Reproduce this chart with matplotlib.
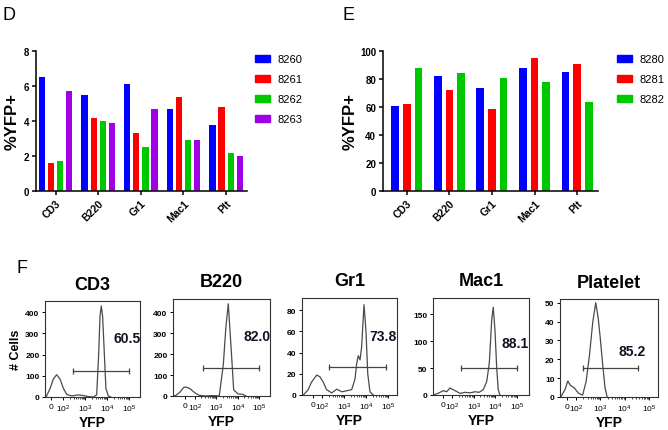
import numpy as np
import matplotlib.pyplot as plt
from matplotlib.patches import Patch

plt.rcParams['font.family'] = ['Liberation Sans', 'DejaVu Sans']

W, H = 668, 431

# ---- panel D / E data ----
cells = ['CD3', 'B220', 'Gr1', 'Mac1', 'Plt']

mice_d = ['8260', '8261', '8262', '8263']
yfp_8260 = [6.5, 5.5, 6.1, 4.7, 3.8]
yfp_8261 = [1.6, 4.2, 3.3, 5.4, 4.8]
yfp_8262 = [1.7, 4.0, 2.5, 2.9, 2.2]
yfp_8263 = [5.7, 3.9, 4.7, 2.9, 2.0]

mice_e = ['8280', '8281', '8282']
yfp_8280 = [60.5, 82.0, 73.8, 88.1, 85.2]
yfp_8281 = [62.4, 72.1, 58.8, 95.2, 91.0]
yfp_8282 = [87.6, 84.5, 80.5, 78.1, 63.3]

# ---- panel F data (x in log10 units of YFP, y = # cells) ----
hist_titles = ['CD3', 'B220', 'Gr1', 'Mac1', 'Platelet']
gated_pct = ['60.5', '82.0', '73.8', '88.1', '85.2']

cd3_x = [1.23, 1.41, 1.56, 1.71, 1.86, 2.02, 2.17, 2.4, 2.7, 2.92, 3.15, 3.38, 3.53, 3.62, 3.68, 3.74, 3.8, 3.88, 3.95, 4.06, 4.17]
cd3_y = [0, 40, 85, 105, 85, 40, 12, 5, 10, 7, 2, 0, 10, 200, 380, 430, 380, 200, 40, 5, 0]

b220_x = [0.99, 1.1, 1.3, 1.47, 1.58, 1.77, 2.0, 2.2, 2.5, 2.8, 3.13, 3.32, 3.44, 3.55, 3.7, 3.8, 4.0, 4.22, 4.37]
b220_y = [0, 2, 18, 40, 43, 35, 15, 3, 0, 2, 0, 150, 330, 440, 200, 30, 10, 8, 0]

gr1_x = [1.15, 1.37, 1.52, 1.76, 1.91, 2.06, 2.21, 2.44, 2.67, 2.9, 3.12, 3.35, 3.5, 3.58, 3.65, 3.73, 3.8, 3.91, 4.0, 4.08, 4.18, 4.33]
gr1_y = [0, 5, 12, 18.8, 17, 12, 5, 2, 5.5, 3, 4, 5, 15, 30, 37, 33, 45, 85, 60, 20, 3, 0]

mac1_x = [1.12, 1.35, 1.59, 1.75, 1.9, 2.14, 2.37, 2.6, 2.83, 3.06, 3.25, 3.44, 3.6, 3.72, 3.83, 3.9, 3.98, 4.06, 4.13, 4.21]
mac1_y = [0, 3, 8, 6, 13, 8, 3, 5, 4, 6, 5, 10, 25, 60, 140, 163, 120, 50, 10, 0]

plt_x = [1.37, 1.55, 1.66, 1.78, 1.92, 2.1, 2.27, 2.41, 2.55, 2.69, 2.81, 2.91, 2.99, 3.09, 3.19, 3.28]
plt_y = [0, 4, 8.5, 6, 5, 2, 1, 8, 22, 40, 50, 42, 32, 18, 5, 0]

hist_x = [cd3_x, b220_x, gr1_x, mac1_x, plt_x]
hist_y = [cd3_y, b220_y, gr1_y, mac1_y, plt_y]
hist_xlim = [(1.18, 5.5), (0.98, 5.49), (1.09, 5.41), (1.12, 5.55), (1.34, 5.37)]
hist_zero = [1.44, 1.53, 1.59, 1.58, 1.63]
hist_ymax = [453, 463, 91.3, 180, 52]
hist_yticks = [[0, 100, 200, 300, 400], [0, 100, 200, 300, 400], [0, 20, 40, 60, 80],
               [0, 50, 100, 150], [0, 10, 20, 30, 40, 50]]
gate_x = [(2.44, 5.0), (2.36, 4.99), (2.33, 4.91), (2.4, 4.98), (2.27, 4.56)]
gate_y = [124, 133, 26, 50, 15.4]
label_pos = [(4.93, 280), (4.87, 287), (4.79, 55.8), (4.93, 96), (4.29, 24.6)]

# ---- layout (pixels) ----
fig = plt.figure(figsize=(W / 100, H / 100), dpi=100)


def px_axes(l, t, r, b):
    return fig.add_axes([l / W, 1 - b / H, (r - l) / W, (b - t) / H])


colors = ['#0000ff', '#ff0000', '#00c800', '#a000e6']


def bar_panel(ax, series, names, pitch, width, xlim, ylim, yticks, ylab_x, leg_xy):
    n = len(series)
    x = np.arange(len(cells))
    for i, vals in enumerate(series):
        ax.bar(x + (i - (n - 1) / 2) * pitch, vals, width, color=colors[i], label=names[i])
    ax.set_xlim(*xlim)
    ax.set_ylim(*ylim)
    ax.set_yticks(yticks)
    ax.set_xticks(x)
    ax.set_xticklabels(cells, rotation=45, ha='right', rotation_mode='anchor',
                       fontsize=7.5, fontweight='bold')
    for lab in ax.get_yticklabels():
        lab.set_fontsize(7)
        lab.set_fontweight('bold')
    for s in ['top', 'right']:
        ax.spines[s].set_visible(False)
    for s in ['left', 'bottom']:
        ax.spines[s].set_linewidth(1.1)
    ax.tick_params(width=1.1, length=3, pad=2)
    ax.set_ylabel('%YFP+', fontsize=12, fontweight='bold')
    ax.yaxis.set_label_coords(ylab_x, 0.5)
    handles = [Patch(color=colors[i]) for i in range(n)]
    fig.legend(handles, names, loc='upper left', bbox_to_anchor=(leg_xy[0] / W, 1 - leg_xy[1] / H),
               frameon=False, fontsize=8, handlelength=1.35, handleheight=0.6,
               handletextpad=0.7, labelspacing=0.9, borderpad=0, borderaxespad=0)


ax_d = px_axes(36, 52, 247, 192)
bar_panel(ax_d, [yfp_8260, yfp_8261, yfp_8262, yfp_8263], mice_d, 0.214, 0.148,
          (-0.46, 4.49), (0, 8), [0, 2, 4, 6, 8], -0.076, (255, 55))

ax_e = px_axes(383, 52, 598, 192)
bar_panel(ax_e, [yfp_8280, yfp_8281, yfp_8282], mice_e, 0.274, 0.18,
          (-0.56, 4.49), (0, 100), [0, 20, 40, 60, 80, 100], -0.116, (617, 55))

fig.text(3 / W, 1 - 7 / H, 'D', fontsize=13, va='top', ha='left')
fig.text(342 / W, 1 - 7 / H, 'E', fontsize=13, va='top', ha='left')
fig.text(16 / W, 1 - 260 / H, 'F', fontsize=13, va='top', ha='left')

hist_boxes = [(45, 302, 140, 398), (173, 300, 270, 397), (302, 299, 397, 396),
              (433, 299, 529, 396), (560, 300, 658, 398)]

minor = [d + np.log10(k) for d in (2, 3, 4) for k in range(2, 10)]

for i, box in enumerate(hist_boxes):
    ax = px_axes(*box)
    ax.plot(hist_x[i], hist_y[i], color='#4a4a4a', lw=0.9)
    ax.plot(gate_x[i], [gate_y[i], gate_y[i]], color='#444444', lw=0.9,
            marker='|', markersize=4, markeredgewidth=0.9)
    ax.text(label_pos[i][0], label_pos[i][1], gated_pct[i], fontsize=10,
            fontweight='bold', ha='center', va='center', color='#111122')
    ax.set_xlim(*hist_xlim[i])
    ax.set_ylim(0, hist_ymax[i])
    ax.set_yticks(hist_yticks[i])
    ax.set_xticks([hist_zero[i], 2, 3, 4, 5])
    ax.set_xticklabels(['0', r'$\mathregular{10^2}$', r'$\mathregular{10^3}$',
                        r'$\mathregular{10^4}$', r'$\mathregular{10^5}$'], fontsize=6)
    ax.set_xticks([m for m in minor if m < hist_xlim[i][1]], minor=True)
    for lab in ax.get_yticklabels():
        lab.set_fontsize(6)
        lab.set_fontweight('bold')
    for s in ax.spines.values():
        s.set_linewidth(0.8)
        s.set_color('#333333')
    ax.tick_params(length=2.5, width=0.7, pad=1.5)
    ax.tick_params(which='minor', length=1.5, width=0.5)
    ax.set_xlabel('YFP', fontsize=10, fontweight='bold', labelpad=1)
    ax.set_title(hist_titles[i], fontsize=13, fontweight='bold', pad=9)
    if i == 0:
        ax.set_ylabel('# Cells', fontsize=9, fontweight='bold', labelpad=2)

fig.savefig('out.png', dpi=100)
